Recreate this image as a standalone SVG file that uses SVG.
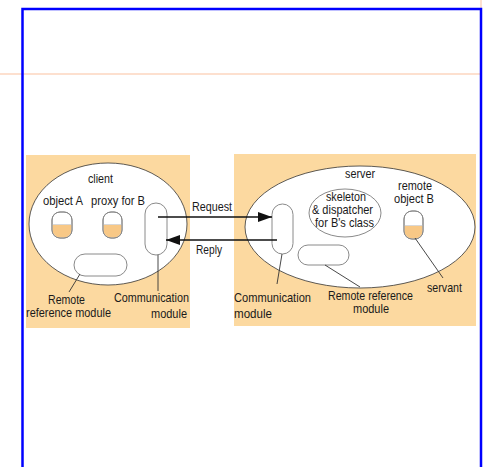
<svg xmlns="http://www.w3.org/2000/svg" width="483" height="467" viewBox="0 0 483 467">
  <defs>
    <style>
      .frame { fill: none; stroke: #0000ff; stroke-width: 2.5; }
      .guide { stroke: #fde0cf; stroke-width: 2; fill: none; }
      .panel { fill: #fcd9a0; stroke: none; }
      .process { fill: #ffffff; stroke: #333333; stroke-width: 0.8; }
      .module { fill: #ffffff; stroke: #8a8a8a; stroke-width: 1; }
      .obj { fill: #ffffff; stroke: #8a8a8a; stroke-width: 1; }
      .outline { fill: none; stroke: #8a8a8a; stroke-width: 1; }
      .objfill { fill: #f8c886; stroke: none; }
      .objline { stroke: #d8d8d8; stroke-width: 1; }
      .lead { stroke: #333333; stroke-width: 0.9; fill: none; }
      .msg { stroke: #111111; stroke-width: 1.4; fill: none; }
      text { font-family: "Liberation Sans", Arial, sans-serif; font-size: 13px; fill: #1a1a1a; }
    </style>
    <marker id="arrow" viewBox="0 0 14 10" refX="14" refY="5" markerWidth="14" markerHeight="10" markerUnits="userSpaceOnUse" orient="auto">
      <path d="M0,0 L14,5 L0,10 Z" fill="#111111"/>
    </marker>
  </defs>

  <!-- page guides and frame -->
  <line class="guide" x1="0" y1="74" x2="480" y2="74"/>
  <line class="guide" x1="481" y1="0" x2="481" y2="74"/>
  <rect class="frame" x="22.5" y="9" width="458.5" height="470"/>

  <!-- client side -->
  <g id="client">
    <rect class="panel" x="26" y="155" width="164" height="173"/>
    <ellipse class="process" cx="108" cy="224" rx="79" ry="61"/>
    <text x="88" y="183" textLength="25" lengthAdjust="spacingAndGlyphs">client</text>
  </g>

  <g id="object-a">
    <rect class="obj" x="52" y="212" width="20" height="26" rx="8"/>
    <path class="objfill" d="M52.5,225 H71.5 V230 A7.5,7.5 0 0 1 64,237.5 H60 A7.5,7.5 0 0 1 52.5,230 Z"/>
    <line class="objline" x1="52.5" y1="224.5" x2="71.5" y2="224.5"/>
    <rect class="outline" x="52" y="212" width="20" height="26" rx="8"/>
    <text x="43" y="205" textLength="40" lengthAdjust="spacingAndGlyphs">object A</text>
  </g>

  <g id="proxy-b">
    <rect class="obj" x="103" y="212" width="19" height="26" rx="8"/>
    <path class="objfill" d="M103.5,225 H121.5 V230 A7.5,7.5 0 0 1 114,237.5 H111 A7.5,7.5 0 0 1 103.5,230 Z"/>
    <line class="objline" x1="103.5" y1="224.5" x2="121.5" y2="224.5"/>
    <rect class="outline" x="103" y="212" width="19" height="26" rx="8"/>
    <text x="91" y="205" textLength="54" lengthAdjust="spacingAndGlyphs">proxy for B</text>
  </g>

  <g id="client-comm">
    <rect class="module" x="145" y="203" width="22" height="52" rx="11"/>
    <line class="lead" x1="158" y1="255" x2="158" y2="291"/>
    <text x="114" y="302" textLength="75" lengthAdjust="spacingAndGlyphs">Communication</text>
    <text x="151" y="318" textLength="36" lengthAdjust="spacingAndGlyphs">module</text>
  </g>

  <g id="client-remote-ref">
    <rect class="module" x="74" y="254" width="53" height="22" rx="11"/>
    <line class="lead" x1="80" y1="274" x2="69" y2="292"/>
    <text x="48" y="304" textLength="37" lengthAdjust="spacingAndGlyphs">Remote</text>
    <text x="26" y="317" textLength="85" lengthAdjust="spacingAndGlyphs">reference module</text>
  </g>

  <!-- server side -->
  <g id="server">
    <rect class="panel" x="234" y="154" width="242" height="172"/>
    <ellipse class="process" cx="360" cy="227" rx="115" ry="61"/>
    <text x="345" y="178" textLength="30" lengthAdjust="spacingAndGlyphs">server</text>
  </g>

  <g id="skeleton">
    <ellipse class="module" cx="345" cy="213" rx="36" ry="24"/>
    <text x="326" y="201" textLength="40" lengthAdjust="spacingAndGlyphs">skeleton</text>
    <text x="312" y="214" textLength="61" lengthAdjust="spacingAndGlyphs">&amp; dispatcher</text>
    <text x="315" y="227" textLength="59" lengthAdjust="spacingAndGlyphs">for B's class</text>
  </g>

  <g id="remote-object-b">
    <rect class="obj" x="404" y="211" width="19" height="28" rx="8"/>
    <path class="objfill" d="M404.5,226 H422.5 V231 A7.5,7.5 0 0 1 415,238.5 H412 A7.5,7.5 0 0 1 404.5,231 Z"/>
    <line class="objline" x1="404.5" y1="225.5" x2="422.5" y2="225.5"/>
    <rect class="outline" x="404" y="211" width="19" height="28" rx="8"/>
    <text x="398" y="190" textLength="34" lengthAdjust="spacingAndGlyphs">remote</text>
    <text x="394" y="203" textLength="40" lengthAdjust="spacingAndGlyphs">object B</text>
    <line class="lead" x1="415" y1="238" x2="443" y2="278"/>
    <text x="427" y="292" textLength="35" lengthAdjust="spacingAndGlyphs">servant</text>
  </g>

  <g id="server-comm">
    <rect class="module" x="272" y="204" width="21" height="50" rx="10.5"/>
    <line class="lead" x1="282" y1="254" x2="277" y2="284"/>
    <text x="234" y="302" textLength="77" lengthAdjust="spacingAndGlyphs">Communication</text>
    <text x="234" y="318" textLength="38" lengthAdjust="spacingAndGlyphs">module</text>
  </g>

  <g id="server-remote-ref">
    <rect class="module" x="298" y="245" width="51" height="20" rx="10"/>
    <line class="lead" x1="325" y1="265" x2="360" y2="287"/>
    <text x="328" y="300" textLength="85" lengthAdjust="spacingAndGlyphs">Remote reference</text>
    <text x="353" y="313" textLength="36" lengthAdjust="spacingAndGlyphs">module</text>
  </g>

  <!-- request / reply messages -->
  <g id="connectors">
    <line class="msg" x1="158" y1="217" x2="272" y2="217" marker-end="url(#arrow)"/>
    <line class="msg" x1="277" y1="240" x2="166" y2="240" marker-end="url(#arrow)"/>
    <text x="192" y="211" textLength="40" lengthAdjust="spacingAndGlyphs">Request</text>
    <text x="196" y="254" textLength="26" lengthAdjust="spacingAndGlyphs">Reply</text>
  </g>
</svg>
